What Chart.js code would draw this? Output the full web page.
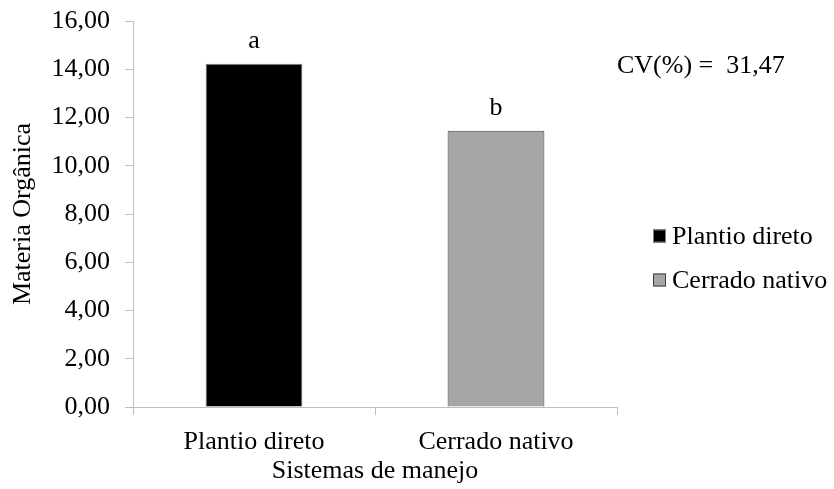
<!DOCTYPE html>
<html>
<head>
<meta charset="utf-8">
<script src="https://cdn.jsdelivr.net/npm/chart.js@4"></script>
<style>
  html, body { margin: 0; padding: 0; background: #fff; }
  #wrap { width: 834px; height: 489px; }
</style>
</head>
<body>
<div id="wrap"><canvas id="barChart" width="834" height="489"></canvas></div>
<script>
// dados
var categorias = ["Plantio direto", "Cerrado nativo"];
var materiaOrganica = [14.23, 11.45];
var letras = ["a", "b"];
var cores = ["#000000", "#a6a6a6"];
var bordas = ["#7f7f7f", "#404040"];
var cvTexto = "CV(%) =  31,47";

var fonte = "'Liberation Serif', 'Times New Roman', serif";

function virgula(v) {
  return Number(v).toFixed(2).replace(".", ",");
}

// letras, CV e legenda
var extras = {
  id: "extras",
  afterDatasetsDraw: function (chart) {
    var ctx = chart.ctx;
    var area = chart.chartArea;
    var meta = chart.getDatasetMeta(0);
    ctx.save();
    ctx.font = "26px " + fonte;
    ctx.fillStyle = "#000";
    ctx.textAlign = "center";
    ctx.textBaseline = "middle";
    meta.data.forEach(function (bar, i) {
      ctx.fillText(letras[i], bar.x, bar.y - 23);
    });

    ctx.textAlign = "left";
    ctx.fillText(cvTexto, area.right, 66);

    // legenda
    var lx = area.right + 36;
    var ly = 236;
    categorias.forEach(function (cat, i) {
      var y = ly + i * 44;
      ctx.fillStyle = cores[i];
      ctx.fillRect(lx, y - 6.5, 13, 13);
      ctx.strokeStyle = bordas[i];
      ctx.lineWidth = 1;
      ctx.strokeRect(lx + 0.5, y - 6, 12, 12);
      ctx.fillStyle = "#000";
      ctx.fillText(cat, lx + 19, y + 1);
    });
    ctx.restore();
  },
};

var ctxB = document.getElementById("barChart").getContext("2d");
var grafico = new Chart(ctxB, {
  type: "bar",
  data: {
    labels: categorias,
    datasets: [
      {
        data: materiaOrganica,
        backgroundColor: cores,
        borderColor: bordas,
        borderWidth: 1,
        categoryPercentage: 1,
        barPercentage: 0.4,
      },
    ],
  },
  options: {
    responsive: false,
    animation: false,
    layout: { padding: { top: 21, right: 217, left: 0, bottom: 0 } },
    plugins: {
      legend: { display: false },
      tooltip: { enabled: false },
    },
    scales: {
      x: {
        grid: { drawOnChartArea: false, tickLength: 8, color: "#bfbfbf", offset: true },
        border: { color: "#bfbfbf" },
        ticks: { color: "#000", font: { family: fonte, size: 26 }, padding: 12 },
        title: {
          display: true,
          text: "Sistemas de manejo",
          color: "#000",
          font: { family: fonte, size: 26 },
          padding: { top: 0, bottom: 2 },
        },
        afterFit: function (scale) {
          scale.height = 82;
          scale.paddingLeft = 0;
          scale.paddingRight = 0;
        },
      },
      y: {
        min: 0,
        max: 16,
        grid: { drawOnChartArea: false, tickLength: 8, color: "#bfbfbf" },
        border: { color: "#bfbfbf" },
        ticks: {
          stepSize: 2,
          color: "#000",
          font: { family: fonte, size: 26 },
          padding: 15,
          callback: function (v) { return virgula(v); },
        },
        title: {
          display: true,
          text: "Materia Orgânica",
          color: "#000",
          font: { family: fonte, size: 26 },
          padding: { top: 8, bottom: 0 },
        },
        afterFit: function (scale) {
          scale.width = 133;
          scale.paddingTop = 0;
          scale.paddingBottom = 0;
        },
      },
    },
  },
  plugins: [extras],
});
</script>
</body>
</html>
